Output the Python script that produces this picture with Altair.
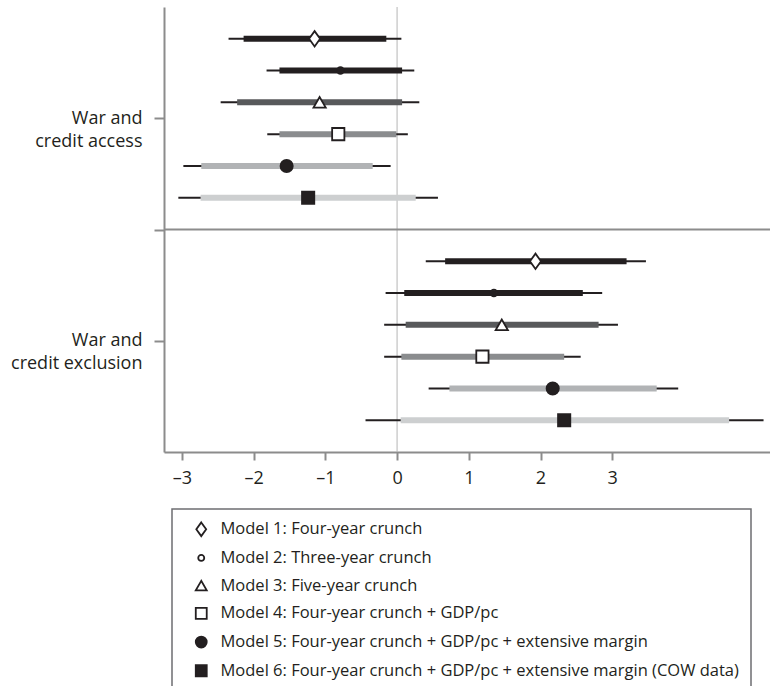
import altair as alt
import pandas as pd

# ---------------- data ----------------
groups = [["War and", "credit access"], ["War and", "credit exclusion"]]
models = [
    "Model 1: Four-year crunch",
    "Model 2: Three-year crunch",
    "Model 3: Five-year crunch",
    "Model 4: Four-year crunch + GDP/pc",
    "Model 5: Four-year crunch + GDP/pc + extensive margin",
    "Model 6: Four-year crunch + GDP/pc + extensive margin (COW data)",
]
# War and credit access
access_est = [-1.15, -0.79, -1.08, -0.82, -1.54, -1.24]
access_in_lo = [-2.14, -1.64, -2.23, -1.64, -2.73, -2.74]
access_in_hi = [-0.15, 0.07, 0.07, -0.01, -0.34, 0.26]
access_out_lo = [-2.35, -1.82, -2.46, -1.81, -2.98, -3.05]
access_out_hi = [0.06, 0.24, 0.31, 0.15, -0.09, 0.57]
# War and credit exclusion
excl_est = [1.93, 1.35, 1.46, 1.19, 2.17, 2.33]
excl_in_lo = [0.67, 0.10, 0.12, 0.06, 0.73, 0.05]
excl_in_hi = [3.20, 2.59, 2.81, 2.33, 3.62, 4.63]
excl_out_lo = [0.40, -0.16, -0.18, -0.18, 0.44, -0.44]
excl_out_hi = [3.47, 2.86, 3.08, 2.56, 3.92, 5.11]

x_ticks = [-3, -2, -1, 0, 1, 2, 3]

# styles
bar_colors = ["#231f20", "#231f20", "#58595b", "#8a8c8e", "#b1b3b5", "#cdcfd0"]
marker_fills = ["white", "white", "white", "white", "#231f20", "#231f20"]
marker_shapes = [
    "M0,-1.25L0.9,0L0,1.25L-0.9,0Z",
    "M-0.55,0A0.55,0.55,0,1,1,0.55,0A0.55,0.55,0,1,1,-0.55,0Z",
    "triangle-up",
    "square",
    "circle",
    "square",
]
INK = "#231f20"
AXIS_GRAY = "#8c8c8c"
FONT = "Open Sans"

rows = []
sets = [
    (access_est, access_in_lo, access_in_hi, access_out_lo, access_out_hi),
    (excl_est, excl_in_lo, excl_in_hi, excl_out_lo, excl_out_hi),
]
for g, (est, ilo, ihi, olo, ohi) in enumerate(sets):
    for i, m in enumerate(models):
        rows.append(dict(model=m, idx=i, pos=g * 7 + i + 1, est=est[i], ilo=ilo[i],
                         ihi=ihi[i], olo=olo[i], ohi=ohi[i]))
df = pd.DataFrame(rows)

x_scale = alt.Scale(domain=[-3.25, 5.2], nice=False, zero=False)
y_scale = alt.Scale(domain=[0, 14], reverse=True, nice=False, zero=False)

label_expr = (
    f"datum.value == 3.5 ? {groups[0]} : datum.value == 10.5 ? {groups[1]} : ''"
)

base = alt.Chart(df)

x_enc = alt.X(
    "olo:Q", scale=x_scale, title=None,
    axis=alt.Axis(values=x_ticks, grid=False, domainColor=AXIS_GRAY, domainWidth=2,
                  tickColor=AXIS_GRAY, tickWidth=2, tickSize=8, labelPadding=9,
                  labelFontSize=18, labelColor=INK, labelFont=FONT,
                  labelExpr="datum.value < 0 ? '\u2013' + abs(datum.value) : datum.value"),
)
y_enc = alt.Y(
    "pos:Q", scale=y_scale, title=None,
    axis=alt.Axis(values=[3.5, 7, 10.5], grid=False, domainColor=AXIS_GRAY, domainWidth=2,
                  tickColor=AXIS_GRAY, tickWidth=2, tickSize=10, labelPadding=12,
                  labelFontSize=18, labelColor=INK, labelFont=FONT, labelLineHeight=23,
                  labelBaseline="middle", labelExpr=label_expr),
)

zero_line = alt.Chart().mark_rule(color="#b5b5b5", strokeWidth=1).encode(
    x=alt.datum(0, scale=x_scale)
)
sep_line = alt.Chart().mark_rule(color=AXIS_GRAY, strokeWidth=2).encode(
    y=alt.datum(7, scale=y_scale)
)

whisk = base.mark_rule(color=INK, strokeWidth=2).encode(
    x=x_enc, x2="ohi:Q", y=y_enc
)
inner = base.mark_rule(strokeWidth=6, strokeCap="butt").encode(
    x="ilo:Q", x2="ihi:Q", y="pos:Q",
    color=alt.Color("idx:O", scale=alt.Scale(domain=list(range(6)), range=bar_colors),
                    legend=None),
)

leg = alt.Legend(
    title=None, orient="none", legendX=8, legendY=502,
    strokeColor="#6d6e71", padding=12,
    labelFont=FONT, labelFontSize=16.5, labelColor=INK, labelLimit=1000,
    symbolSize=120, symbolStrokeWidth=1.8, symbolStrokeColor=INK,
    symbolOffset=9, labelOffset=11, rowPadding=9.7,
)
points = base.mark_point(size=150, strokeWidth=1.8, opacity=1).encode(
    x="est:Q", y="pos:Q",
    shape=alt.Shape("model:N", scale=alt.Scale(domain=models, range=marker_shapes), legend=leg),
    fill=alt.Fill("model:N", scale=alt.Scale(domain=models, range=marker_fills), legend=leg),
    stroke=alt.Stroke("model:N", scale=alt.Scale(domain=models, range=[INK] * 6), legend=leg),
)
# model 2's small marker reads as a solid dot on its black bar
dot2 = base.transform_filter(alt.datum.model == models[1]).mark_point(
    shape="circle", size=40, filled=True, color=INK, opacity=1
).encode(x="est:Q", y="pos:Q")

chart = alt.layer(zero_line, sep_line, whisk, inner, points, dot2).properties(
    width=606, height=445,
    autosize=alt.AutoSizeParams(type="none"),
    padding={"left": 164, "top": 7, "right": 0, "bottom": 234},
).configure_view(stroke=None).configure_legend(strokeWidth=1.5)

chart.save("out.html", embed_options={"renderer": "svg", "actions": False})
